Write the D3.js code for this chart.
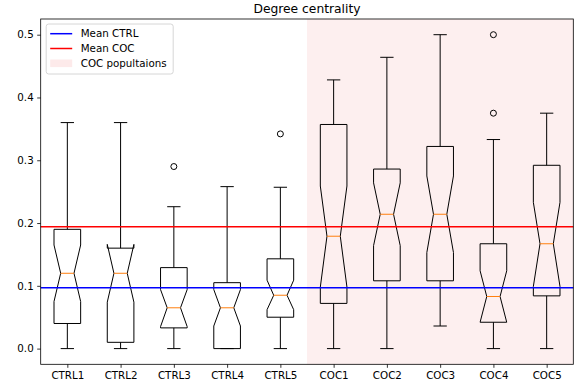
<!DOCTYPE html>
<html>
<head>
<meta charset="utf-8">
<script src="https://cdn.jsdelivr.net/npm/d3@7"></script>
<style>
  body { margin: 0; background: #fff; }
  text { font-family: "DejaVu Sans", sans-serif; }
</style>
</head>
<body>
<div id="chart"></div>
<script>
// box statistics
const groups    = ["CTRL1", "CTRL2", "CTRL3", "CTRL4", "CTRL5", "COC1", "COC2", "COC3", "COC4", "COC5"];
const whiskLo   = [0, 0, 0, 0, 0, 0, 0, 0.036, 0, 0];
const q1        = [0.040, 0.010, 0.033, 0.000, 0.050, 0.072, 0.108, 0.108, 0.042, 0.084];
const notchLo   = [0.075, 0.074, 0.035, 0.036, 0.062, 0.098, 0.164, 0.153, 0.042, 0.099];
const medians   = [0.120, 0.120, 0.065, 0.065, 0.085, 0.179, 0.214, 0.214, 0.083, 0.167];
const notchHi   = [0.165, 0.166, 0.094, 0.094, 0.109, 0.259, 0.264, 0.275, 0.124, 0.233];
const q3        = [0.190, 0.160, 0.129, 0.105, 0.143, 0.357, 0.286, 0.322, 0.167, 0.292];
const whiskHi   = [0.360, 0.360, 0.226, 0.258, 0.257, 0.428, 0.464, 0.500, 0.333, 0.375];
const outliers  = [[], [], [0.290], [], [0.342], [], [], [], [0.375, 0.500], []];
const meanCtrl = 0.097;
const meanCoc = 0.194;
const yTicks = [0.0, 0.1, 0.2, 0.3, 0.4, 0.5];

const W = 580, H = 388;
const margin = {top: 19, right: 6.7, bottom: 23.7, left: 40.7};
const width = W - margin.left - margin.right;
const height = H - margin.top - margin.bottom;

let svg = d3.select("#chart").append("svg")
    .attr("width", W)
    .attr("height", H);

let g = svg.append("g")
    .attr("transform", "translate(" + margin.left + "," + margin.top + ")");

// x uses positions 1..10 like matplotlib boxplot
let x = d3.scaleLinear().domain([0.5, groups.length + 0.5]).range([0, width]);
let y = d3.scaleLinear().domain([-0.025, 0.525]).range([height, 0]);
const bw = x(1.25) - x(1);   // half box width (width 0.5)

// shaded span for COC populations
g.append("rect")
    .attr("x", x(5.5))
    .attr("y", 0)
    .attr("width", x(10.5) - x(5.5))
    .attr("height", height)
    .attr("fill", "#fdefef");

// boxes
groups.forEach((name, i) => {
  const cx = x(i + 1);
  const l = cx - bw, r = cx + bw, il = cx - bw / 2, ir = cx + bw / 2;
  let bx = g.append("g").attr("class", "box");

  // whiskers and caps
  [[whiskLo[i], q1[i]], [q3[i], whiskHi[i]]].forEach(([a, b]) => {
    bx.append("line")
        .attr("x1", cx).attr("x2", cx)
        .attr("y1", y(a)).attr("y2", y(b))
        .attr("stroke", "#000").attr("stroke-width", 1);
  });
  [whiskLo[i], whiskHi[i]].forEach(v => {
    bx.append("line")
        .attr("x1", il).attr("x2", ir)
        .attr("y1", y(v)).attr("y2", y(v))
        .attr("stroke", "#000").attr("stroke-width", 1);
  });

  // notched box outline, same point order as matplotlib
  const pts = [
    [l, q1[i]], [r, q1[i]], [r, notchLo[i]], [ir, medians[i]], [r, notchHi[i]],
    [r, q3[i]], [l, q3[i]], [l, notchHi[i]], [il, medians[i]], [l, notchLo[i]], [l, q1[i]]
  ];
  bx.append("path")
      .attr("d", d3.line().x(d => d[0]).y(d => y(d[1]))(pts))
      .attr("fill", "none")
      .attr("stroke", "#000")
      .attr("stroke-width", 1)
      .attr("stroke-linejoin", "miter");

  // median
  bx.append("line")
      .attr("x1", il).attr("x2", ir)
      .attr("y1", y(medians[i])).attr("y2", y(medians[i]))
      .attr("stroke", "#ff7f0e").attr("stroke-width", 1);

  // fliers
  bx.selectAll("circle")
      .data(outliers[i])
      .enter().append("circle")
      .attr("cx", cx)
      .attr("cy", d => y(d))
      .attr("r", 3)
      .attr("fill", "none")
      .attr("stroke", "#000")
      .attr("stroke-width", 1);
});

// mean lines
g.append("line")
    .attr("x1", 0).attr("x2", width)
    .attr("y1", y(meanCtrl)).attr("y2", y(meanCtrl))
    .attr("stroke", "blue").attr("stroke-width", 1.5);
g.append("line")
    .attr("x1", 0).attr("x2", width)
    .attr("y1", y(meanCoc)).attr("y2", y(meanCoc))
    .attr("stroke", "red").attr("stroke-width", 1.5);

// axes
let xAxis = g.append("g")
    .attr("transform", "translate(0," + height + ")")
    .call(d3.axisBottom(x)
      .tickValues(d3.range(1, groups.length + 1))
      .tickFormat(d => groups[d - 1])
      .tickSize(3.5)
      .tickPadding(3.5));
let yAxis = g.append("g")
    .call(d3.axisLeft(y)
      .tickValues(yTicks)
      .tickFormat(d3.format(".1f"))
      .tickSize(3.5)
      .tickPadding(3.5));

[xAxis, yAxis].forEach(ax => {
  ax.select(".domain").remove();
  ax.selectAll("line").attr("stroke", "#000").attr("stroke-width", 0.8);
  ax.selectAll("text")
      .attr("fill", "#000")
      .style("font-size", "10.3px")
      .style("font-family", "'DejaVu Sans', sans-serif");
});

// frame
g.append("rect")
    .attr("x", 0).attr("y", 0)
    .attr("width", width).attr("height", height)
    .attr("fill", "none")
    .attr("stroke", "#000")
    .attr("stroke-width", 0.8);

// title
svg.append("text")
    .attr("x", margin.left + width / 2)
    .attr("y", margin.top - 6)
    .attr("text-anchor", "middle")
    .style("font-size", "12.3px")
    .text("Degree centrality");

// legend
let lg = g.append("g").attr("transform", "translate(5.5,5)");
lg.append("rect")
    .attr("x", 0).attr("y", 0)
    .attr("width", 127).attr("height", 50)
    .attr("rx", 2.5)
    .attr("fill", "#fff").attr("fill-opacity", 0.8)
    .attr("stroke", "#ccc").attr("stroke-width", 0.8);

const legendItems = [
  {label: "Mean CTRL", type: "line", color: "blue"},
  {label: "Mean COC", type: "line", color: "red"},
  {label: "COC popultaions", type: "patch", color: "#fdeaea"}
];
legendItems.forEach((it, k) => {
  const yy = 9.7 + k * 14.8;
  if (it.type === "line") {
    lg.append("line")
        .attr("x1", 4).attr("x2", 26)
        .attr("y1", yy).attr("y2", yy)
        .attr("stroke", it.color).attr("stroke-width", 1.5);
  } else {
    lg.append("rect")
        .attr("x", 4).attr("y", yy - 3.8)
        .attr("width", 22).attr("height", 7.6)
        .attr("fill", it.color);
  }
  lg.append("text")
      .attr("x", 34.5)
      .attr("y", yy)
      .attr("dy", "0.35em")
      .style("font-size", "10.3px")
      .text(it.label);
});
</script>
</body>
</html>
